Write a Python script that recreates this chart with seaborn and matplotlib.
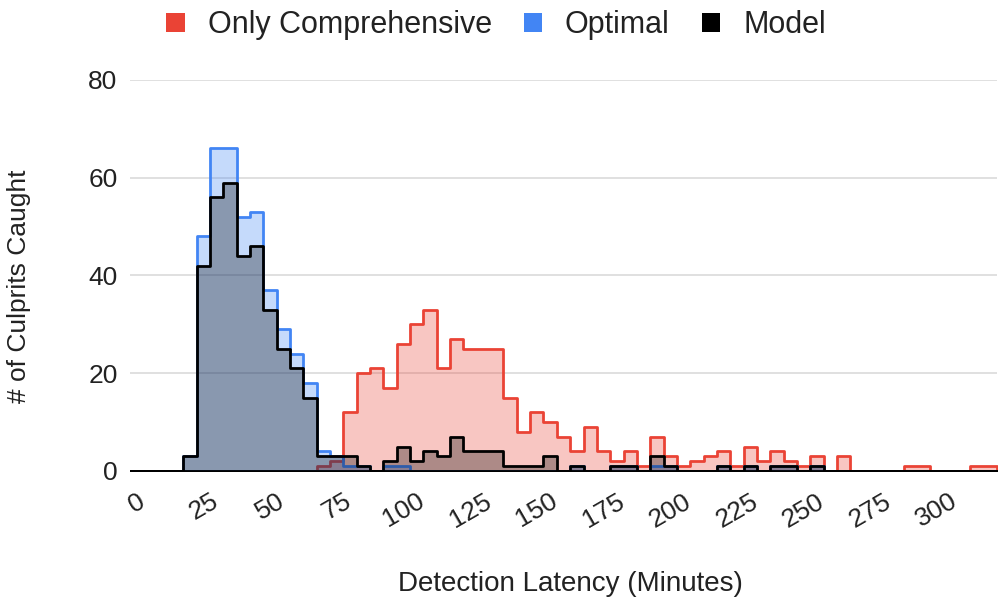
import pandas as pd
import matplotlib
matplotlib.use('Agg')
import matplotlib.pyplot as plt
from matplotlib.patches import Patch
import seaborn as sns

# ── Data: culprits caught per 5-minute latency bin ───────────
latency = list(range(0, 325, 5))   # bin centres, 0 .. 320 minutes

only_comprehensive = [0, 0, 0, 0, 0, 0, 0, 0, 0, 0, 0, 0, 0, 0,
                      1, 2, 12, 20, 21, 17, 26, 30, 33, 21,
                      27, 25, 25, 25, 15, 8, 12, 10, 7, 4,
                      9, 4, 2, 4, 1, 7, 3, 1, 2, 3,
                      4, 1, 5, 2, 4, 2, 1, 3, 0, 3,
                      0, 0, 0, 0, 1, 1, 0, 0, 0, 1, 1]

optimal = [0, 0, 0, 0, 3, 48, 66, 66, 52, 53,
           37, 29, 24, 18, 4, 3, 1, 1, 0, 1,
           1, 0, 0, 0, 0, 0, 0, 0, 0, 0,
           0, 0, 0, 1, 0, 0, 1, 1, 0, 1,
           1, 0, 0, 0, 1, 0, 1, 0, 1, 1,
           0, 1, 0, 0, 0, 0, 0, 0, 0, 0,
           0, 0, 0, 0, 0]

model = [0, 0, 0, 0, 3, 42, 56, 59, 44, 46,
         33, 25, 21, 15, 3, 3, 3, 1, 0, 2,
         5, 2, 4, 3, 7, 4, 4, 4, 1, 1,
         1, 3, 0, 1, 0, 0, 1, 1, 0, 3,
         1, 0, 0, 0, 1, 0, 1, 0, 1, 1,
         0, 1, 0, 0, 0, 0, 0, 0, 0, 0,
         0, 0, 0, 0, 0]

series_names  = ["Only Comprehensive", "Optimal", "Model"]
series_colors = ["#ea4335", "#4285f4", "#000000"]

df = pd.DataFrame({
    "latency": latency * 3,
    "count":   only_comprehensive + optimal + model,
    "method":  [n for n in series_names for _ in latency],
})

# ── Style ────────────────────────────────────────────────────
sns.set_theme(style="white")
plt.rcParams['font.family'] = ['Liberation Sans', 'DejaVu Sans']
plt.rcParams['text.color'] = '#222222'

fig = plt.figure(figsize=(10, 6), dpi=100)
ax = fig.add_axes([0.13, 0.215, 0.867, 0.6517])

# stepped areas: red at the bottom, model on top
for z, (name, color) in enumerate(zip(series_names, series_colors)):
    sns.histplot(data=df[df["method"] == name], x="latency", weights="count",
                 binwidth=5, binrange=(-2.5, 322.5), element="step",
                 fill=True, color=color, alpha=0.3, linewidth=2.0,
                 ax=ax, zorder=3 + z, joinstyle='round')

ax.set_xlim(-2.5, 322.5)
ax.set_ylim(0, 80)
ax.set_yticks([0, 20, 40, 60, 80])
ax.set_xticks(range(0, 301, 25))
ax.set_xticklabels([str(v) for v in range(0, 301, 25)], rotation=30, ha='center')

ax.yaxis.grid(True, color='#dddddd', linewidth=1.3)
ax.xaxis.grid(False)
ax.axhline(0, color='#333333', linewidth=1.3, zorder=2)
for s in ax.spines.values():
    s.set_visible(False)

ax.tick_params(axis='x', length=0, pad=13, labelsize=19, labelcolor='#222222')
ax.tick_params(axis='y', length=0, pad=9, labelsize=19, labelcolor='#222222')

ax.set_xlabel("Detection Latency (Minutes)", fontsize=20, color='#222222')
ax.set_ylabel("# of Culprits Caught", fontsize=19, color='#222222')
ax.xaxis.set_label_coords(0.508, -0.255)
ax.yaxis.set_label_coords(-0.114, 0.472)

# ── Legend ───────────────────────────────────────────────────
handles = [Patch(facecolor=c, edgecolor='none') for c in series_colors]
fig.legend(handles, series_names, loc='center', bbox_to_anchor=(0.496, 0.958),
           ncol=3, frameon=False, fontsize=22, handlelength=0.6,
           handleheight=0.6, handletextpad=0.75, columnspacing=1.05)

plt.savefig("out.png", dpi=100)
